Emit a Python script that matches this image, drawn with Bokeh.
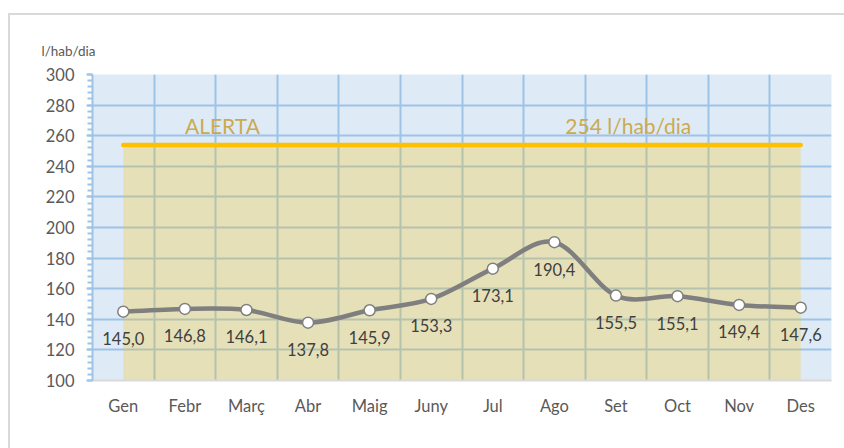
from bokeh.plotting import figure
from bokeh.models import (FactorRange, Range1d, SingleIntervalTicker, FixedTicker,
                          Label, Title, ColumnDataSource)
from bokeh.embed import file_html
from bokeh.resources import INLINE
from bokeh.core.properties import value

# ---- data ----
months = ["Gen", "Febr", "Març", "Abr", "Maig", "Juny", "Jul", "Ago", "Set", "Oct", "Nov", "Des"]
consum = [145.0, 146.8, 146.1, 137.8, 145.9, 153.3, 173.1, 190.4, 155.5, 155.1, 149.4, 147.6]
alerta = 254
alerta_text = "ALERTA"
alerta_val_text = "254 l/hab/dia"
y_min, y_max, y_step = 100, 300, 20
unit_label = "l/hab/dia"

FONT = "Lato"
GRID = "#9DC3E6"
GREY_TXT = "#595959"

p = figure(width=844, height=448, x_range=FactorRange(*months), y_range=Range1d(y_min, y_max),
           output_backend="svg", toolbar_location=None,
           min_border_left=92, min_border_right=13, min_border_top=74, min_border_bottom=68)

p.background_fill_color = "#DEEBF7"
p.border_fill_color = None
p.outline_line_color = None
# outer chart frame (top & left edges visible in the window)
p.styles = {
    "background": ("linear-gradient(#D9D9D9, #D9D9D9) 8px 13px / 2px 100% no-repeat, "
                   "linear-gradient(#D9D9D9, #D9D9D9) 8px 13px / 100% 2px no-repeat, white"),
}

# grids
p.xgrid.ticker = FixedTicker(ticks=list(range(len(months) + 1)))
p.xgrid.grid_line_color = GRID
p.xgrid.grid_line_width = 2
p.yaxis.ticker = SingleIntervalTicker(interval=y_step, num_minor_ticks=5)
p.ygrid.grid_line_color = GRID
p.ygrid.grid_line_width = 2

# y axis
ya = p.yaxis[0]
ya.axis_line_color = GRID
ya.axis_line_width = 2
ya.major_tick_line_color = GRID
ya.major_tick_line_width = 2
ya.major_tick_out = 6
ya.major_tick_in = 0
ya.minor_tick_line_color = GRID
ya.minor_tick_line_width = 2
ya.minor_tick_out = 5
ya.minor_tick_in = 0
ya.major_label_text_font = FONT
ya.major_label_text_font_size = "16.5px"
ya.major_label_text_color = GREY_TXT
ya.major_label_standoff = 12

# x axis
xa = p.xaxis[0]
xa.axis_line_color = "#D9D9D9"
xa.axis_line_width = 2
xa.major_tick_line_color = None
xa.minor_tick_line_color = None
xa.major_label_text_font = FONT
xa.major_label_text_font_size = "16.5px"
xa.major_label_text_color = GREY_TXT
xa.major_label_standoff = 9

# unit label above the y axis
p.add_layout(Title(text=unit_label, align="left", offset=-51, standoff=32,
                   text_font=FONT, text_font_size="13.5px", text_font_style="normal",
                   text_color=GREY_TXT), "above")

# alert area + line
p.varea(x=months, y1=[y_min] * len(months), y2=[alerta] * len(months),
        fill_color="#FFC000", fill_alpha=0.25)
p.line(x=months, y=[alerta] * len(months), line_color="#FFC000", line_width=4.5, line_cap="round")

# smoothed line (Catmull-Rom -> cubic Bezier, like Excel smoothing)
xs = [i + 0.5 for i in range(len(months))]
n = len(consum)
x0, y0, x1, y1, cx0, cy0, cx1, cy1 = [], [], [], [], [], [], [], []
for i in range(n - 1):
    pm = max(i - 1, 0)
    pp = min(i + 2, n - 1)
    x0.append(xs[i]); y0.append(consum[i])
    x1.append(xs[i + 1]); y1.append(consum[i + 1])
    cx0.append(xs[i] + (xs[i + 1] - xs[pm]) / 6.0)
    cy0.append(consum[i] + (consum[i + 1] - consum[pm]) / 6.0)
    cx1.append(xs[i + 1] - (xs[pp] - xs[i]) / 6.0)
    cy1.append(consum[i + 1] - (consum[pp] - consum[i]) / 6.0)
p.bezier(x0=x0, y0=y0, x1=x1, y1=y1, cx0=cx0, cy0=cy0, cx1=cx1, cy1=cy1,
         line_color="#7F7F7F", line_width=4.5, line_cap="round")

p.scatter(x=months, y=consum, size=11, fill_color="white", line_color="#7F7F7F", line_width=1.5)

labels = [f"{v:.1f}".replace(".", ",") for v in consum]
src = ColumnDataSource(dict(x=months, y=consum, t=labels))
p.text(x="x", y="y", text="t", source=src, text_align="center", text_baseline="middle",
       y_offset=27, text_font=value(FONT), text_font_size="16.5px", text_color="#404040")

# alert texts
p.add_layout(Label(x=2.11, y=266.7, text=alerta_text, text_align="center", text_baseline="middle",
                   text_font=FONT, text_font_size="21px", text_color="#CBAA4E"))
p.add_layout(Label(x=8.70, y=266.7, text=alerta_val_text, text_align="center", text_baseline="middle",
                   text_font=FONT, text_font_size="21px", text_color="#CBAA4E"))

open("out.html", "w").write(file_html(p, INLINE))
